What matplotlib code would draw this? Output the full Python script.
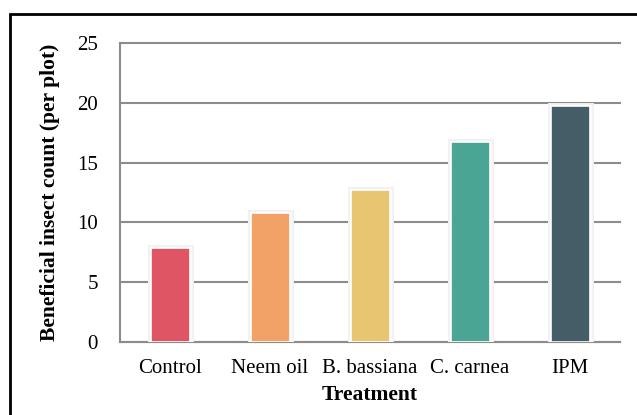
import matplotlib
matplotlib.use("Agg")
import matplotlib.pyplot as plt
from matplotlib.patches import Rectangle
import matplotlib.patheffects as pe

categories = ["Control", "Neem oil", "B. bassiana", "C. carnea", "IPM"]
values = [7.9, 10.8, 12.7, 16.7, 19.7]
colors = ["#E05563", "#F2A267", "#E8C570", "#4AA594", "#445D67"]
yticks = [0, 5, 10, 15, 20, 25]

plt.rcParams['font.family'] = ['Liberation Serif', 'DejaVu Serif']

W, H = 637, 415
fig = plt.figure(figsize=(W/100, H/100), dpi=100)
ax = fig.add_axes([120/W, 1-342/H, 500/W, 299/H])

x = list(range(len(categories)))
bars = ax.bar(x, values, width=0.39, color=colors, edgecolor="white", linewidth=1.2, zorder=3)
for b in bars:
    b.set_path_effects([pe.Stroke(linewidth=5, foreground="#f1f1f1"), pe.Stroke(linewidth=2.5, foreground="#fafafa"), pe.Normal()])

ax.set_xlim(-0.5, 4.5)
ax.set_ylim(0, 25)
ax.set_yticks(yticks)
ax.set_xticks(x)
ax.set_xticklabels(categories, fontsize=15)
ax.tick_params(axis='y', labelsize=15, length=0, pad=16)
ax.tick_params(axis='x', length=0, pad=12)
ax.yaxis.grid(True, color="#8c8c8c", linewidth=1.5, zorder=0)
for gl in ax.get_ygridlines():
    gl.set_clip_on(False)
ax.set_axisbelow(True)
for s in ["top", "right"]:
    ax.spines[s].set_visible(False)
ax.spines["left"].set_color("#8c8c8c")
ax.spines["left"].set_linewidth(1.5)
ax.spines["bottom"].set_color("#8c8c8c")
ax.spines["bottom"].set_linewidth(1.5)

ax.set_xlabel("Treatment", fontsize=15.5, fontweight="bold", labelpad=5)
ax.set_ylabel("Beneficial insect count (per plot)", fontsize=15.5, fontweight="bold", labelpad=12)

border = Rectangle((10/W, -0.1), 1.0, 1 - 14/H + 0.1, transform=fig.transFigure,
                   fill=False, edgecolor="black", linewidth=2, clip_on=False)
fig.patches.append(border)

fig.savefig("out.png", dpi=100)
